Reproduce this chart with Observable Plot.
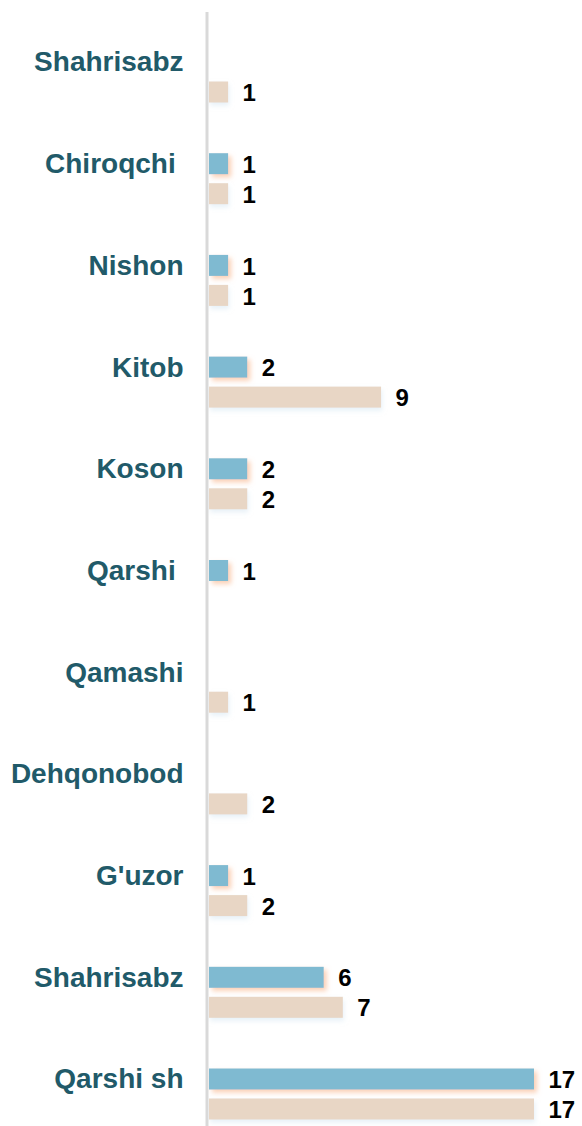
<!DOCTYPE html>
<html>
<head>
<meta charset="utf-8">
<script src="https://cdn.jsdelivr.net/npm/d3@7"></script>
<script src="https://cdn.jsdelivr.net/npm/@observablehq/plot@0.6"></script>
<style>
  html, body { margin: 0; padding: 0; background: #fff; }
  #chart svg { display: block; }
  #chart svg text { white-space: pre; }
</style>
</head>
<body>
<div id="chart"></div>
<script>
const categories = ["Shahrisabz", "Chiroqchi ", "Nishon", "Kitob", "Koson", "Qarshi ", "Qamashi", "Dehqonobod", "G'uzor", "Shahrisabz", "Qarshi sh"];
const blueValues = [null, 1, 1, 2, 2, 1, null, null, 1, 6, 17];
const beigeValues = [1, 1, 1, 9, 2, null, 1, 2, 2, 7, 17];

const idx = categories.map((_, i) => i);
const blueData = idx.filter(i => blueValues[i] != null).map(i => ({i, v: blueValues[i]}));
const beigeData = idx.filter(i => beigeValues[i] != null).map(i => ({i, v: beigeValues[i]}));
const labelData = idx.map(i => ({i, name: categories[i]}));

const step = 101.7;
const top0 = 12;
const font = "'Liberation Sans', Arial, Helvetica, sans-serif";

const plot = Plot.plot({
  width: 582,
  height: 1126,
  marginTop: 12,
  marginBottom: 0,
  marginLeft: 209,
  marginRight: 48,
  style: {fontFamily: font, background: "#fff"},
  x: {domain: [0, 17], axis: null},
  y: {type: "band", domain: idx, range: [top0, top0 + step * categories.length], padding: 0, round: false, axis: null},
  marks: [
    Plot.barX(beigeData, {x: "v", y: "i", fill: "#e8d6c5", insetTop: 69.5, insetBottom: step - 90.5}),
    Plot.barX(blueData, {x: "v", y: "i", fill: "#7fbad1", insetTop: 39.5, insetBottom: step - 60.5}),
    Plot.ruleX([0], {stroke: "#d9d9d9", strokeWidth: 3, dx: -2.5}),
    Plot.text(labelData, {x: () => 0, y: "i", text: "name", textAnchor: "end", dx: -26, dy: 50 - step / 2,
      fill: "#215a69", fontSize: 28, fontWeight: "bold"}),
    Plot.text(blueData, {x: "v", y: "i", text: d => String(d.v), textAnchor: "start", dx: 14, dy: 50 - step / 2 + 1,
      fill: "#000", fontSize: 24, fontWeight: "bold"}),
    Plot.text(beigeData, {x: "v", y: "i", text: d => String(d.v), textAnchor: "start", dx: 14, dy: 80 - step / 2 + 1,
      fill: "#000", fontSize: 24, fontWeight: "bold"})
  ]
});

// soft glows like the reference
const svg = d3.select(plot);
const defs = svg.insert("defs", ":first-child");
const f1 = defs.append("filter").attr("id", "glowOrange").attr("x", "-10%").attr("y", "-50%").attr("width", "130%").attr("height", "220%");
f1.append("feDropShadow").attr("dx", 3).attr("dy", 3).attr("stdDeviation", 2.5).attr("flood-color", "#f7a878").attr("flood-opacity", 0.55);
const f2 = defs.append("filter").attr("id", "glowBlue").attr("x", "-10%").attr("y", "-50%").attr("width", "130%").attr("height", "220%");
f2.append("feDropShadow").attr("dx", 1).attr("dy", 3).attr("stdDeviation", 2.5).attr("flood-color", "#cfe3f0").attr("flood-opacity", 0.5);
const bars = svg.selectAll("g[aria-label='bar']").nodes();
if (bars[0]) d3.select(bars[0]).attr("filter", "url(#glowBlue)");
if (bars[1]) d3.select(bars[1]).attr("filter", "url(#glowOrange)");

document.getElementById("chart").appendChild(plot);
</script>
</body>
</html>
